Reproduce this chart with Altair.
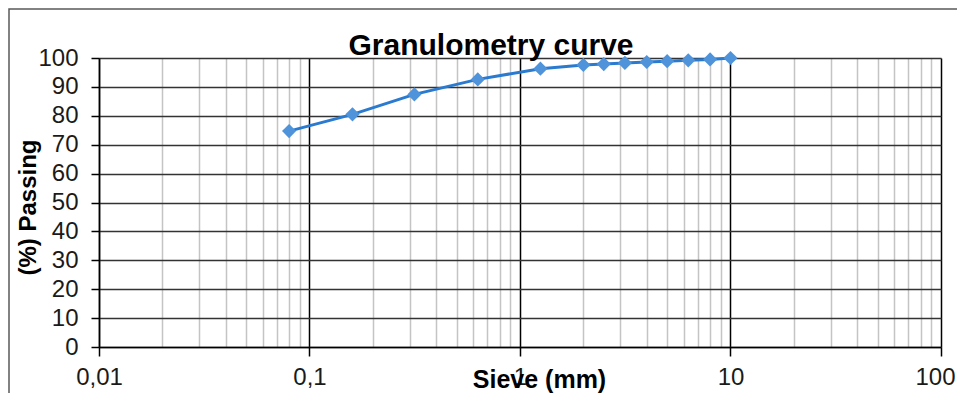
import altair as alt
import pandas as pd

TITLE = "Granulometry curve"
X_TITLE = "Sieve (mm)"
Y_TITLE = "(%)  Passing"

SIEVE_MM = [0.08, 0.16, 0.315, 0.63, 1.25, 2, 2.5, 3.15, 4, 5, 6.3, 8, 10]
PASSING = [74.7, 80.5, 87.4, 92.6, 96.3, 97.6, 97.9, 98.3, 98.6, 98.9, 99.2, 99.5, 100]

X_DOMAIN = [0.01, 100]
X_TICKS = [m * d for d in [0.01, 0.1, 1, 10] for m in range(1, 10)] + [100]
Y_DOMAIN = [0, 100]
Y_TICKS = [0, 10, 20, 30, 40, 50, 60, 70, 80, 90, 100]

FONT = "Liberation Sans"

df = pd.DataFrame({"sieve": SIEVE_MM, "passing": PASSING})

is_decade = "abs(log(datum.value)/LN10 - round(log(datum.value)/LN10)) < 0.001"

x_enc = alt.X(
    "sieve:Q",
    scale=alt.Scale(type="log", domain=X_DOMAIN, nice=False),
    axis=alt.Axis(
        title=X_TITLE,
        values=X_TICKS,
        labelExpr=f"({is_decade}) ? (datum.value >= 1 ? format(datum.value, 'd') : replace(format(datum.value, '~g'), '.', ',')) : ''",
        labelOverlap=False,
        labelFlush=False,
        labelFont=FONT,
        labelFontSize=24,
        labelColor="#1a1a1a",
        labelPadding=9,
        labelOffset={"condition": {"test": "datum.value > 50", "value": -6}, "value": 0},
        tickSize=9,
        tickWidth=1.5,
        tickColor="#000000",
        tickOpacity={"condition": {"test": is_decade, "value": 1}, "value": 0},
        domainColor="#000000",
        domainWidth=1.5,
        grid=True,
        gridColor={"condition": {"test": is_decade, "value": "#000000"}, "value": "#c4c4c4"},
        gridWidth=1.5,
        titleFont=FONT,
        titleFontSize=25,
        titleFontWeight="bold",
        titleColor="#000000",
        titleX=440,
        titleY=40,
        titleAlign="center",
        titleBaseline="alphabetic",
        titleAnchor="start",
    ),
)

y_enc = alt.Y(
    "passing:Q",
    scale=alt.Scale(domain=Y_DOMAIN, nice=False, zero=True),
    axis=alt.Axis(
        title=Y_TITLE,
        values=Y_TICKS,
        tickCount=11,
        labelFont=FONT,
        labelFontSize=24,
        labelColor="#1a1a1a",
        labelPadding=13,
        labelOverlap=False,
        labelFlush=False,
        tickSize=8,
        tickWidth=1.5,
        tickColor="#000000",
        domainColor="#000000",
        domainWidth=1.5,
        grid=True,
        gridColor="#333333",
        gridWidth=1.5,
        titleFont=FONT,
        titleFontSize=24,
        titleFontWeight="bold",
        titleColor="#000000",
        titleAngle=-90,
        titleX=-71,
        titleY=149,
        titleAlign="center",
        titleBaseline="middle",
        titleAnchor="start",
    ),
)

base = alt.Chart(df).encode(x=x_enc, y=y_enc)

border = alt.Chart(pd.DataFrame({"b": [0]})).mark_rect(
    fill=None, stroke="#595959", strokeWidth=1.5
).encode(
    x=alt.value(-90), x2=alt.value(900), y=alt.value(-49), y2=alt.value(400)
)

line = base.mark_line(color="#2a7ad0", strokeWidth=3)

points = base.mark_point(
    shape="diamond", filled=True, size=200, color="#4f93da", opacity=1
)

title = alt.Chart(pd.DataFrame({"t": [TITLE]})).mark_text(
    font=FONT, fontSize=30, fontWeight="bold", color="#000000",
    align="center", baseline="alphabetic"
).encode(text="t:N", x=alt.value(392), y=alt.value(-3))

chart = alt.layer(border, line, points, title).properties(
    width=842,
    height=289,
    padding={"left": 91, "top": 50, "right": 16, "bottom": 46},
    autosize=alt.AutoSizeParams(type="none"),
).configure_view(
    stroke="#000000", strokeWidth=1.5
).configure(background="#ffffff")

chart.save("out.html", embed_options={"renderer": "svg", "actions": False})
